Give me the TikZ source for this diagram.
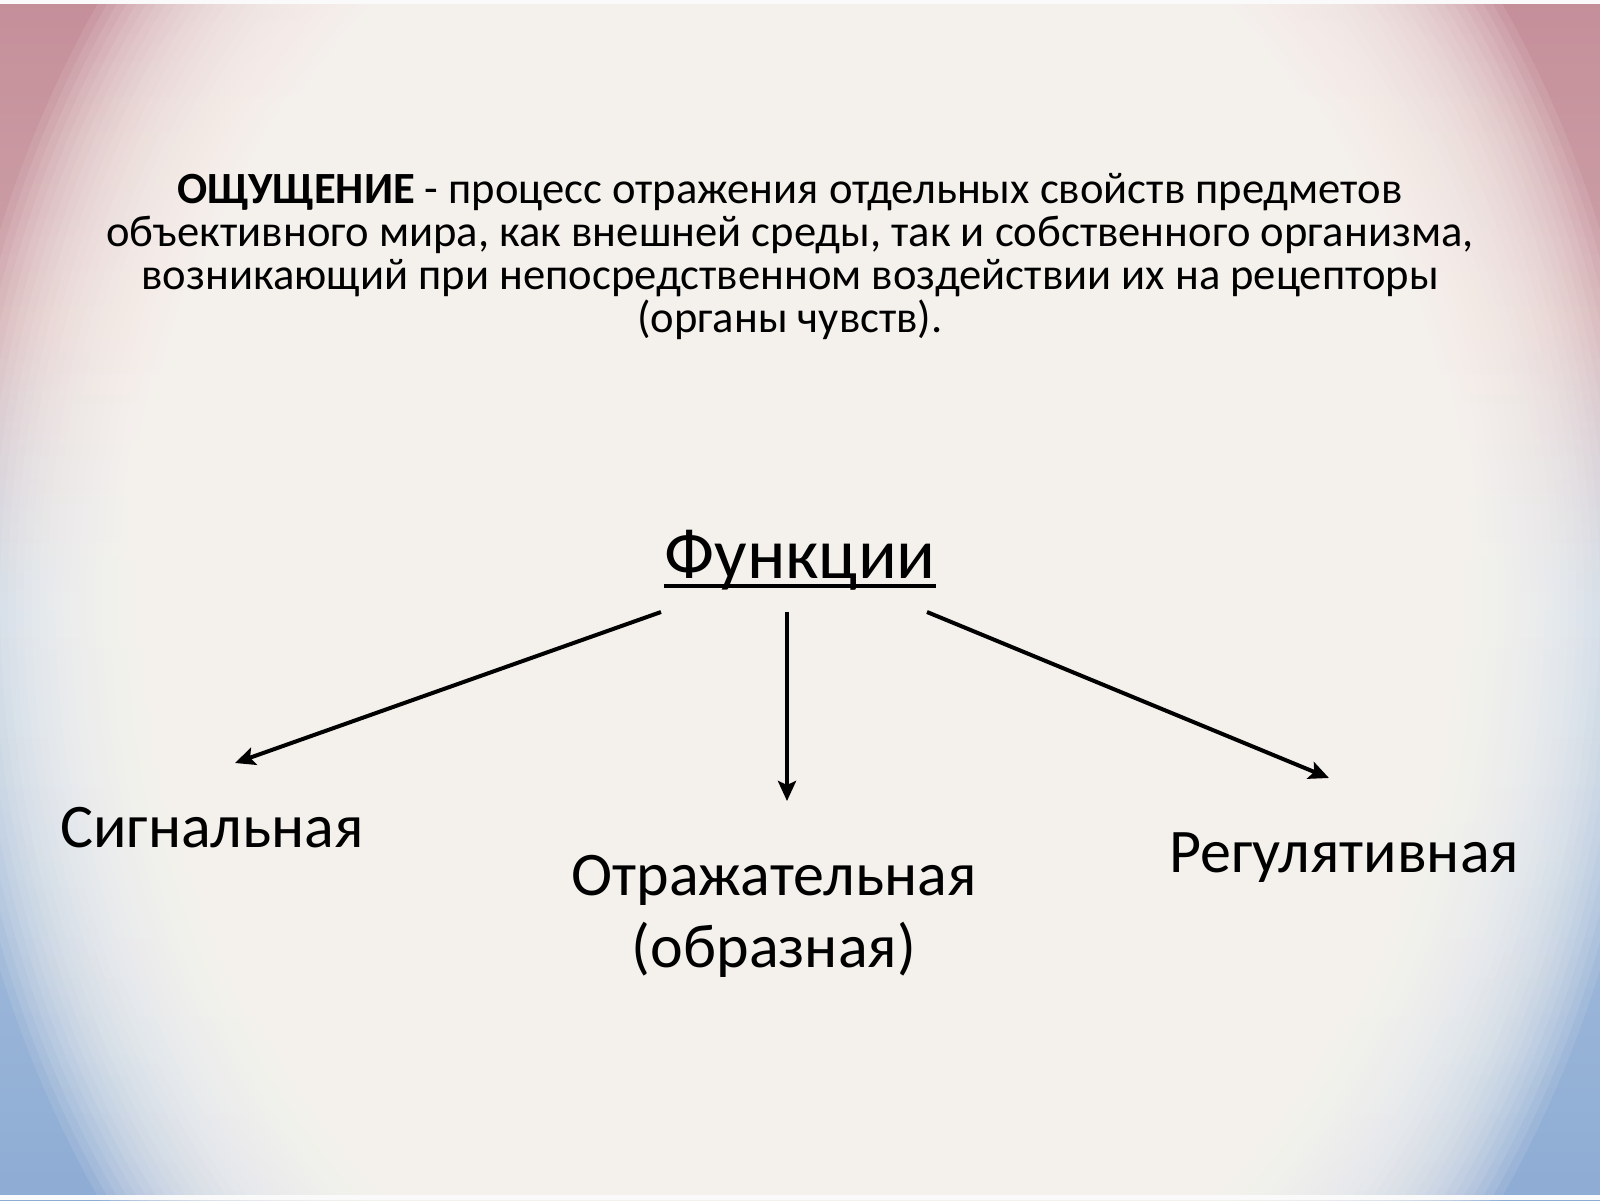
\documentclass[tikz,border=0pt]{standalone}
\usepackage{fontspec}
\setmainfont{Carlito}
\usetikzlibrary{arrows.meta}
\definecolor{pinktop}{HTML}{C58F9A}
\definecolor{pinkmid}{HTML}{CDA2A9}
\definecolor{graymid}{HTML}{C6CAC4}
\definecolor{bluemid}{HTML}{ADC4DF}
\definecolor{bluebot}{HTML}{8EACD4}
\definecolor{glowc}{HTML}{FDFAF5}
\begin{document}
\begin{tikzpicture}[x=0.5pt,y=-0.5pt,
  lbl/.style={font=\fontsize{31}{36}\selectfont, inner sep=0pt},
  conn/.style={line width=2pt, -{Stealth[length=10pt,width=9pt,inset=2pt]}}]
\useasboundingbox (0,0) rectangle (1600,1200);
\shade[top color=pinktop, bottom color=pinkmid] (0,0) rectangle (1600,332);
\shade[top color=pinkmid, middle color=graymid, bottom color=bluemid] (0,330) rectangle (1600,602);
\shade[top color=bluemid, bottom color=bluebot] (0,600) rectangle (1600,1200);
\foreach \k in {0,...,39} {
  \fill[glowc, fill opacity=0.1] (800,600) ellipse ({0.9*(950-8.75*\k)} and {1.1*(950-8.75*\k)});
}
\fill[white!96!gray] (0,0) rectangle (1600,4);
\fill[white!96!gray] (0,1195) rectangle (1600,1200);
\node[font=\fontsize{22.3}{21.4}\selectfont, align=center, anchor=base, inner sep=0pt] (def) at (790,332)
  {\textbf{ОЩУЩЕНИЕ} - процесс отражения отдельных свойств предметов\\
   объективного мира, как внешней среды, так и собственного организма,\\
   возникающий при непосредственном воздействии их на рецепторы\\
   (органы чувств).};
\node[lbl, font=\fontsize{36}{40}\selectfont, anchor=base] (f) at (800,578) {Функции};
\draw[line width=2.2pt] ([yshift=-4pt]f.base west) -- ([yshift=-4pt]f.base east);
\coordinate (fl) at (661,612);
\coordinate (fm) at (787,612);
\coordinate (fr) at (927,612);
\node[lbl, anchor=base] (s) at (212,847) {Сигнальная};
\node[lbl, anchor=base, align=center, font=\fontsize{31}{36}\selectfont] (o) at (774,967) {Отражательная\\(образная)};
\node[lbl, anchor=base] (r) at (1344,872) {Регулятивная};
\coordinate (sa) at (235,763);
\coordinate (oa) at (787,801);
\coordinate (ra) at (1329,778);
\draw[conn] (fl) -- (sa);
\draw[conn] (fm) -- (oa);
\draw[conn] (fr) -- (ra);
\end{tikzpicture}
\end{document}
